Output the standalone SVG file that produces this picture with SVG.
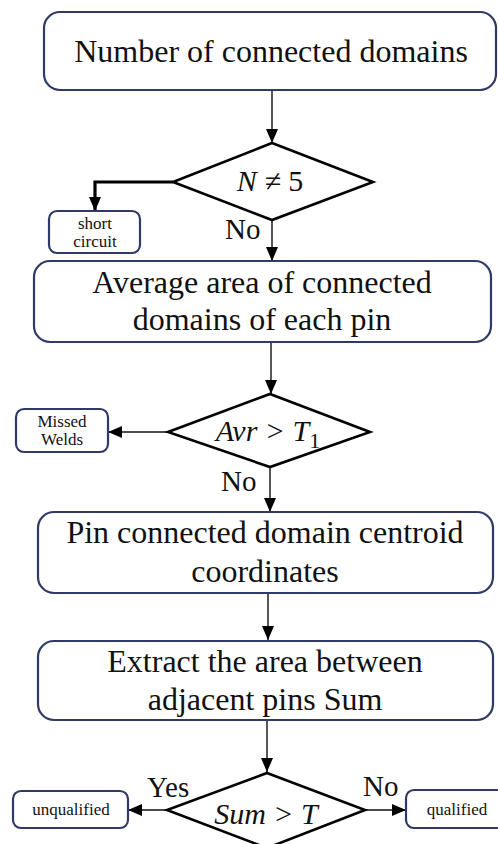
<svg xmlns="http://www.w3.org/2000/svg" width="498" height="844" viewBox="0 0 498 844">
  <defs>
    <marker id="arrow" markerUnits="userSpaceOnUse" markerWidth="14" markerHeight="12" refX="14" refY="6" orient="auto">
      <path d="M0,0 L14,6 L0,12 z" fill="#000"/>
    </marker>
    <style>
      .box { fill: #fff; stroke: #2f3b66; stroke-width: 2.2; }
      .dia { fill: #fff; stroke: #000; stroke-width: 2.6; }
      .big { font-family: "Liberation Serif", "Times New Roman", serif; font-size: 32px; fill: #111; text-anchor: middle; }
      .math { font-family: "Liberation Serif", "Times New Roman", serif; font-size: 30px; fill: #111; text-anchor: middle; font-style: italic; }
      .small { font-family: "Liberation Serif", "Times New Roman", serif; font-size: 17px; fill: #111; text-anchor: middle; }
      .lbl { font-family: "Liberation Serif", "Times New Roman", serif; font-size: 29px; fill: #111; }
      .link { fill: none; stroke: #111; stroke-width: 1.4; marker-end: url(#arrow); }
      .thick { fill: none; stroke: #000; stroke-width: 3.2; marker-end: url(#arrow); }
    </style>
  </defs>

  <rect width="498" height="844" fill="#fff"/>

  <!-- connectors -->
  <g id="connectors">
    <path class="link" d="M272,90 V143"/>
    <path class="thick" d="M173,182 H95 V211"/>
    <path class="link" d="M272,220 V261"/>
    <path class="link" d="M271,342 V394"/>
    <path class="link" d="M168,432 H108"/>
    <path class="link" d="M270,467 V512"/>
    <path class="link" d="M268,593 V640"/>
    <path class="link" d="M267,720 V772"/>
    <path class="link" d="M167,810 H128"/>
    <path class="link" d="M365,810 H406"/>
  </g>

  <!-- edge labels -->
  <g id="labels">
    <text class="lbl" x="225" y="239">No</text>
    <text class="lbl" x="221" y="491">No</text>
    <text class="lbl" x="147" y="797">Yes</text>
    <text class="lbl" x="363" y="796">No</text>
  </g>

  <g id="start">
    <rect class="box" x="44" y="12" width="452" height="78" rx="16"/>
    <text class="big" x="271" y="62">Number of connected domains</text>
  </g>

  <g id="check-count">
    <polygon class="dia" points="272,143 373,182 272,220 173,182"/>
    <text class="math" x="270" y="191">N ≠ <tspan font-style="normal">5</tspan></text>
  </g>

  <g id="short-circuit">
    <rect class="box" x="49" y="211" width="91" height="42" rx="8"/>
    <text class="small" x="95" y="229">short</text>
    <text class="small" x="95" y="247">circuit</text>
  </g>

  <g id="average-area">
    <rect class="box" x="34" y="261" width="457" height="81" rx="16"/>
    <text class="big" x="262" y="293">Average area of connected</text>
    <text class="big" x="262" y="330">domains of each pin</text>
  </g>

  <g id="check-average">
    <polygon class="dia" points="270,394 370,432 270,467 168,432"/>
    <text class="math" x="268" y="441">Avr &gt; T<tspan font-style="normal" font-size="22" dy="7">1</tspan></text>
  </g>

  <g id="missed-welds">
    <rect class="box" x="16" y="409" width="92" height="43" rx="8"/>
    <text class="small" x="62" y="427">Missed</text>
    <text class="small" x="62" y="445">Welds</text>
  </g>

  <g id="centroids">
    <rect class="box" x="38" y="512" width="455" height="81" rx="16"/>
    <text class="big" x="265" y="543">Pin connected domain centroid</text>
    <text class="big" x="265" y="582">coordinates</text>
  </g>

  <g id="extract-sum">
    <rect class="box" x="38" y="641" width="455" height="79" rx="16"/>
    <text class="big" x="265" y="672">Extract the area between</text>
    <text class="big" x="265" y="710">adjacent pins Sum</text>
  </g>

  <g id="check-sum">
    <polygon class="dia" points="267,773 365,810 267,848 167,810"/>
    <text class="math" x="266" y="824">Sum &gt; T</text>
  </g>

  <g id="unqualified">
    <rect class="box" x="13" y="791" width="115" height="37" rx="8"/>
    <text class="small" x="71" y="815">unqualified</text>
  </g>

  <g id="qualified">
    <rect class="box" x="406" y="790" width="100" height="38" rx="8"/>
    <text class="small" x="457" y="815">qualified</text>
  </g>
</svg>
